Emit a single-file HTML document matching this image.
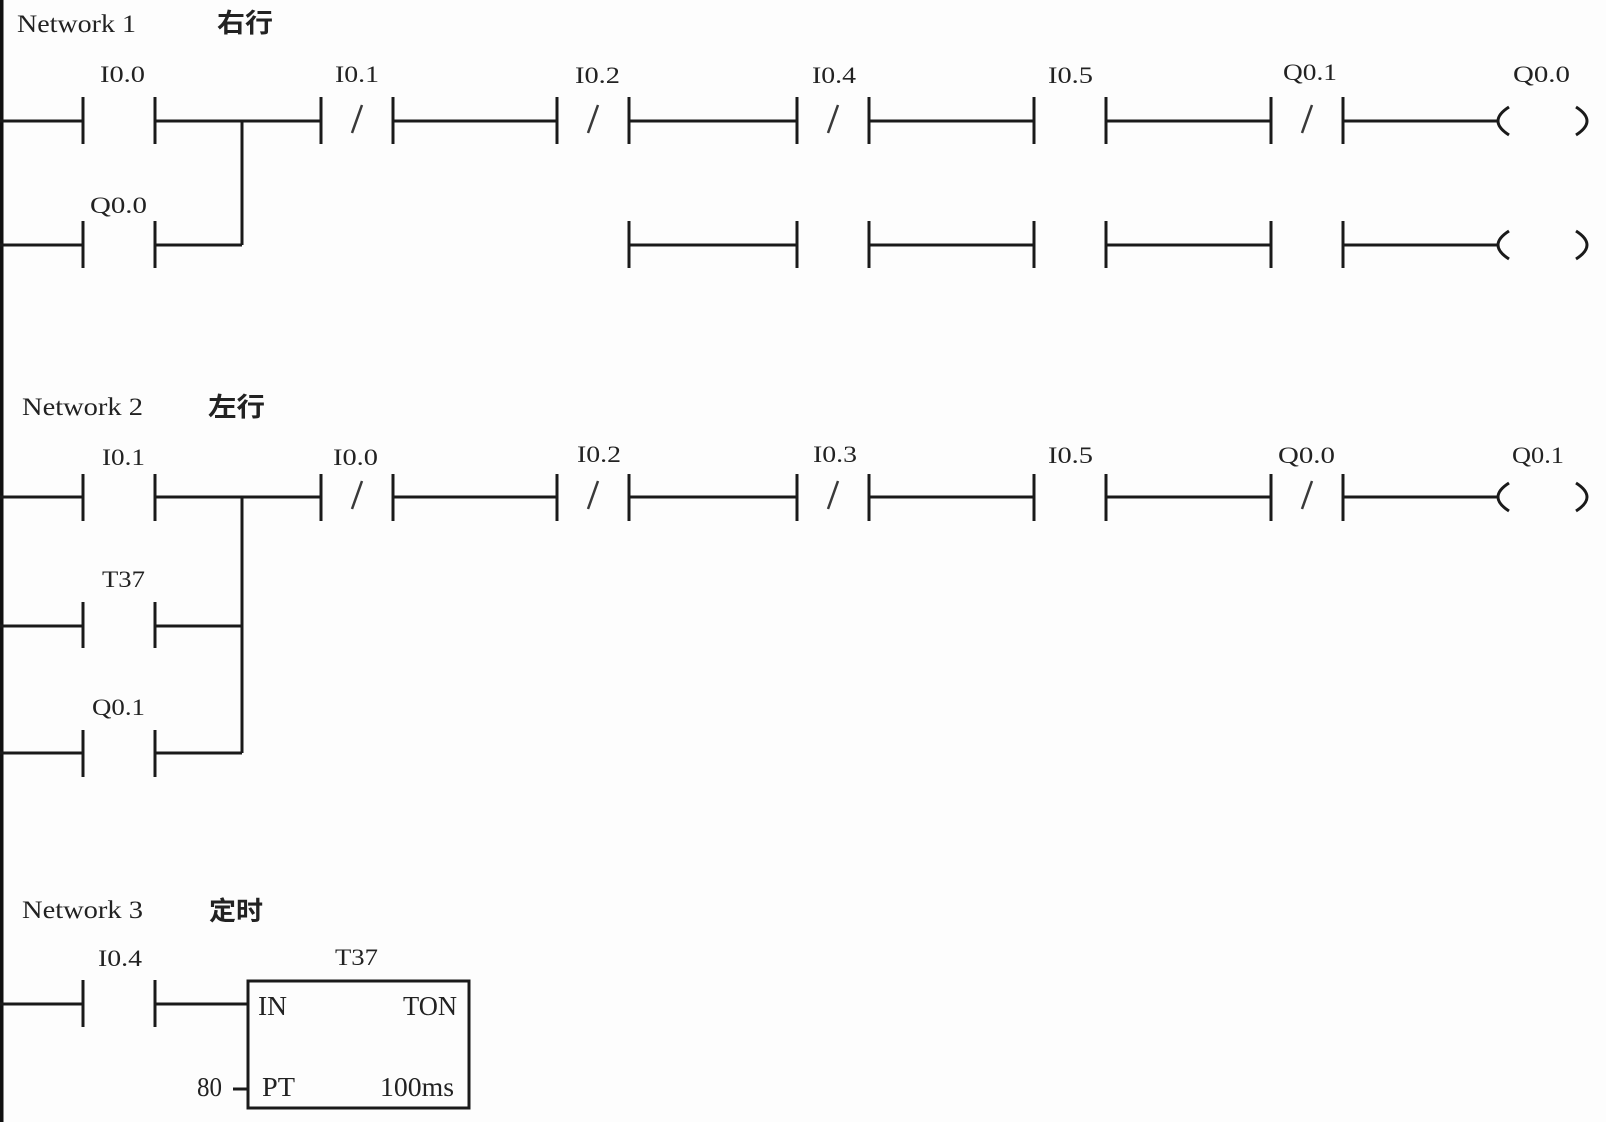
<!DOCTYPE html>
<html>
<head>
<meta charset="utf-8">
<style>
  html, body { margin:0; padding:0; background:#fdfdfd; }
  svg { display:block; }
  .lbl { font-family: "Liberation Serif", "Times New Roman", serif; font-size:23px; fill:#222; }
  .net { font-family: "Liberation Serif", "Times New Roman", serif; font-size:25px; fill:#222; }
  .box { font-family: "Liberation Serif", "Times New Roman", serif; font-size:27px; fill:#222; }
  .cjk { font-family: "Liberation Sans", "Noto Sans CJK SC", "WenQuanYi Zen Hei", sans-serif; font-size:26px; font-weight:bold; fill:#222; }
</style>
</head>
<body>
<svg width="1606" height="1122" viewBox="0 0 1606 1122" xmlns="http://www.w3.org/2000/svg">
  <rect x="0" y="0" width="1606" height="1122" fill="#fdfdfd"/>
  <!-- left power rail -->
  <rect x="0" y="0" width="3.5" height="1122" fill="#111"/>

  <g stroke="#1a1a1a" stroke-width="3" fill="none" stroke-linecap="butt">
    <!-- ===== Network 1 ===== -->
    <!-- row 1 wires -->
    <path d="M0 121 H83 M155 121 H321 M393 121 H557 M629 121 H797 M869 121 H1034 M1106 121 H1271 M1343 121 H1498"/>
    <!-- branch -->
    <path d="M242 121 V245 M155 245 H242 M0 245 H83"/>
    <!-- row 2 wires -->
    <path d="M629 245 H797 M869 245 H1034 M1106 245 H1271 M1343 245 H1498"/>
    <!-- row 1 bars -->
    <path d="M83 97 V144 M155 97 V144 M321 97 V144 M393 97 V144 M557 97 V144 M629 97 V144 M797 97 V144 M869 97 V144 M1034 97 V144 M1106 97 V144 M1271 97 V144 M1343 97 V144"/>
    <!-- row 2 bars -->
    <path d="M83 221 V268 M155 221 V268 M629 221 V268 M797 221 V268 M869 221 V268 M1034 221 V268 M1106 221 V268 M1271 221 V268 M1343 221 V268"/>
    <!-- coils -->
    <path d="M1509 107 Q1487 121 1509 135 M1576 107 Q1598 121 1576 135"/>
    <path d="M1509 231 Q1487 245 1509 259 M1576 231 Q1598 245 1576 259"/>

    <!-- ===== Network 2 ===== -->
    <path d="M0 497 H83 M155 497 H321 M393 497 H557 M629 497 H797 M869 497 H1034 M1106 497 H1271 M1343 497 H1498"/>
    <path d="M242 497 V753 M155 626 H242 M155 753 H242 M0 626 H83 M0 753 H83"/>
    <path d="M83 474 V521 M155 474 V521 M321 474 V521 M393 474 V521 M557 474 V521 M629 474 V521 M797 474 V521 M869 474 V521 M1034 474 V521 M1106 474 V521 M1271 474 V521 M1343 474 V521"/>
    <path d="M83 602 V648 M155 602 V648"/>
    <path d="M83 730 V777 M155 730 V777"/>
    <path d="M1509 483 Q1487 497 1509 511 M1576 483 Q1598 497 1576 511"/>

    <!-- ===== Network 3 ===== -->
    <path d="M0 1004 H83 M155 1004 H248"/>
    <path d="M83 980 V1027 M155 980 V1027"/>
    <rect x="248" y="981" width="221" height="127"/>
    <path d="M233 1089 H248"/>
  </g>

  <!-- NC slashes -->
  <g stroke="#3a3a3a" stroke-width="2.5" fill="none">
    <!-- Network 1: I0.1, I0.2, I0.4, Q0.1 -->
    <path d="M362 105 L352 133"/>
    <path d="M598 105 L588 133"/>
    <path d="M838 105 L828 133"/>
    <path d="M1312 105 L1302 133"/>
    <!-- Network 2: I0.0, I0.2, I0.3, Q0.0 -->
    <path d="M362 481 L352 509"/>
    <path d="M598 481 L588 509"/>
    <path d="M838 481 L828 509"/>
    <path d="M1312 481 L1302 509"/>
  </g>

  <!-- Network titles -->
  <text class="net" x="17" y="32" textLength="119" lengthAdjust="spacingAndGlyphs">Network 1</text>
  <text class="cjk" x="217" y="32" textLength="56" lengthAdjust="spacingAndGlyphs">右行</text>
  <text class="net" x="22" y="415" textLength="121" lengthAdjust="spacingAndGlyphs">Network 2</text>
  <text class="cjk" x="208" y="416" textLength="57" lengthAdjust="spacingAndGlyphs">左行</text>
  <text class="net" x="22" y="918" textLength="121" lengthAdjust="spacingAndGlyphs">Network 3</text>
  <text class="cjk" x="209" y="920" textLength="54" lengthAdjust="spacingAndGlyphs">定时</text>

  <!-- Network 1 labels -->
  <text class="lbl" x="100" y="82" textLength="45" lengthAdjust="spacingAndGlyphs">I0.0</text>
  <text class="lbl" x="335" y="82" textLength="44" lengthAdjust="spacingAndGlyphs">I0.1</text>
  <text class="lbl" x="575" y="83" textLength="45" lengthAdjust="spacingAndGlyphs">I0.2</text>
  <text class="lbl" x="812" y="83" textLength="44" lengthAdjust="spacingAndGlyphs">I0.4</text>
  <text class="lbl" x="1048" y="83" textLength="45" lengthAdjust="spacingAndGlyphs">I0.5</text>
  <text class="lbl" x="1283" y="80" textLength="54" lengthAdjust="spacingAndGlyphs">Q0.1</text>
  <text class="lbl" x="1513" y="82" textLength="57" lengthAdjust="spacingAndGlyphs">Q0.0</text>
  <text class="lbl" x="90" y="213" textLength="57" lengthAdjust="spacingAndGlyphs">Q0.0</text>

  <!-- Network 2 labels -->
  <text class="lbl" x="102" y="465" textLength="43" lengthAdjust="spacingAndGlyphs">I0.1</text>
  <text class="lbl" x="333" y="465" textLength="45" lengthAdjust="spacingAndGlyphs">I0.0</text>
  <text class="lbl" x="577" y="462" textLength="44" lengthAdjust="spacingAndGlyphs">I0.2</text>
  <text class="lbl" x="813" y="462" textLength="44" lengthAdjust="spacingAndGlyphs">I0.3</text>
  <text class="lbl" x="1048" y="463" textLength="45" lengthAdjust="spacingAndGlyphs">I0.5</text>
  <text class="lbl" x="1278" y="463" textLength="57" lengthAdjust="spacingAndGlyphs">Q0.0</text>
  <text class="lbl" x="1512" y="463" textLength="52" lengthAdjust="spacingAndGlyphs">Q0.1</text>
  <text class="lbl" x="102" y="587" textLength="43" lengthAdjust="spacingAndGlyphs">T37</text>
  <text class="lbl" x="92" y="715" textLength="53" lengthAdjust="spacingAndGlyphs">Q0.1</text>

  <!-- Network 3 labels -->
  <text class="lbl" x="98" y="966" textLength="44" lengthAdjust="spacingAndGlyphs">I0.4</text>
  <text class="lbl" x="335" y="965" textLength="43" lengthAdjust="spacingAndGlyphs">T37</text>
  <text class="box" x="258" y="1015" textLength="29" lengthAdjust="spacingAndGlyphs">IN</text>
  <text class="box" x="403" y="1015" textLength="54" lengthAdjust="spacingAndGlyphs">TON</text>
  <text class="box" x="262" y="1096" textLength="33" lengthAdjust="spacingAndGlyphs">PT</text>
  <text class="box" x="380" y="1096" textLength="74" lengthAdjust="spacingAndGlyphs">100ms</text>
  <text class="box" x="197" y="1096" textLength="25" lengthAdjust="spacingAndGlyphs">80</text>
</svg>
</body>
</html>
